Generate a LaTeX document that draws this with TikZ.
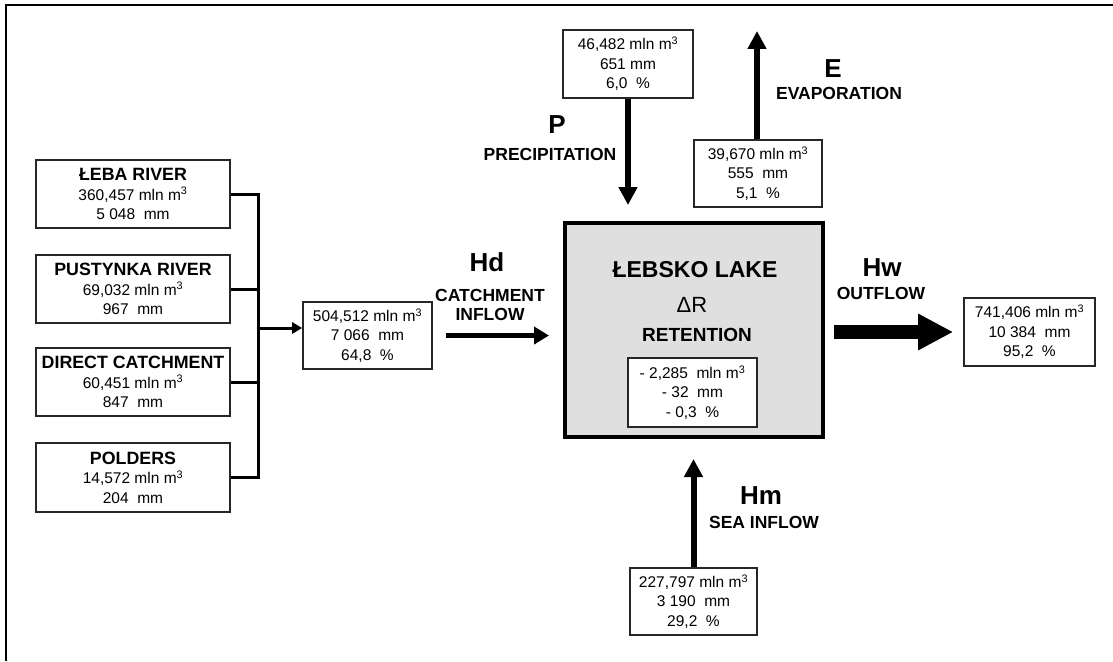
\documentclass[tikz,border=0pt]{standalone}
\usepackage{fontspec}
\setmainfont{Liberation Sans}
\usetikzlibrary{arrows.meta}
\newcommand\ttlfont{\bfseries\fontsize{17.8}{19}\selectfont}
\begin{document}
\begin{tikzpicture}[x=1pt,y=-1pt,
  databox/.style={draw=black!85, line width=1.6pt, fill=white, align=center, inner sep=0pt,
    font=\fontsize{15.5}{19.5}\selectfont},
  biglbl/.style={font=\bfseries\fontsize{26}{28}\selectfont, inner sep=0pt},
  smlbl/.style={font=\bfseries\fontsize{17.5}{19.5}\selectfont, inner sep=0pt, align=center},
  brk/.style={line width=3pt, line join=miter},
  flow/.style={line width=6pt, -{Triangle[length=18pt,width=18pt]}},
]
\useasboundingbox (0,0) rectangle (1113,661);
\fill[white] (0,0) rectangle (1113,661);
% outer frame
\draw[line width=2pt] (6,661) -- (6,5) -- (1113,5);

% left source boxes
\node[databox, minimum width=194pt, minimum height=68pt] (leba) at (133,194)
  {{\ttlfont ŁEBA RIVER}\\360,457 mln m\textsuperscript{3}\\5 048~~mm};
\node[databox, minimum width=194pt, minimum height=68pt] (pust) at (133,289)
  {{\ttlfont PUSTYNKA RIVER}\\69,032 mln m\textsuperscript{3}\\967~~mm};
\node[databox, minimum width=194pt, minimum height=68pt] (direct) at (133,382)
  {{\ttlfont DIRECT CATCHMENT}\\60,451 mln m\textsuperscript{3}\\847~~mm};
\node[databox, minimum width=194pt, minimum height=69pt] (polders) at (133,477.5)
  {{\ttlfont POLDERS}\\14,572 mln m\textsuperscript{3}\\204~~mm};

% catchment sum box
\node[databox, minimum width=129pt, minimum height=67pt] (box504) at (367.5,335.5)
  {504,512 mln m\textsuperscript{3}\\7 066~~mm\\64,8~~\%};

% bracket
\coordinate (bx) at (258,0);
\coordinate (jn) at (258,328);
\draw[brk] (leba.east) -- (leba.east -| bx) -- (polders.east -| bx) -- (polders.east);
\draw[brk] (pust.east) -- (pust.east -| bx);
\draw[brk] (direct.east) -- (direct.east -| bx);
\draw[line width=3pt, -{Triangle[length=10pt,width=11pt]}] (jn) -- (jn -| box504.west);

% lake
\node[draw=black, line width=4pt, fill=gray!25, minimum width=258pt, minimum height=214pt, inner sep=0pt] (lake) at (694,330) {};
\node[font=\bfseries\fontsize{23}{25}\selectfont, inner sep=0pt] (lakename) at (695,270) {ŁEBSKO LAKE};
\node[font=\fontsize{22}{24}\selectfont, inner sep=0pt] (dr) at (692,305) {ΔR};
\node[font=\bfseries\fontsize{19}{21}\selectfont, inner sep=0pt] (ret) at (697,335) {RETENTION};
\node[databox, minimum width=129pt, minimum height=69pt] (retbox) at (692.5,392.5)
  {- 2,285~~mln m\textsuperscript{3}\\- 32~~mm\\- 0,3~~\%};

% precipitation
\node[databox, minimum width=130pt, minimum height=68pt] (pbox) at (628,64)
  {46,482 mln m\textsuperscript{3}\\651 mm\\6,0~~\%};
\node[biglbl] (plbl) at (557,125) {P};
\node[smlbl] (ptxt) at (550,154) {PRECIPITATION};
\draw[flow, shorten >=16pt] (pbox.south) -- (pbox.south |- lake.north);

% evaporation
\node[databox, minimum width=128pt, minimum height=67pt] (ebox) at (758,173.5)
  {39,670 mln m\textsuperscript{3}\\555~~mm\\5,1~~\%};
\coordinate (etop) at (757,31);
\node[biglbl] (elbl) at (833,69) {E};
\node[smlbl] (etxt) at (839,93) {EVAPORATION};
\draw[flow] (ebox.north -| etop) -- (etop);

% catchment inflow
\node[biglbl] (hdlbl) at (487,262) {Hd};
\node[smlbl] (hdtxt) at (490,305) {CATCHMENT\\INFLOW};
\draw[line width=4.5pt, -{Triangle[length=15pt,width=17pt]}, shorten <=13pt, shorten >=14pt]
  (box504.east) -- (lake.west |- box504.east);

% outflow
\node[databox, minimum width=131pt, minimum height=68pt] (hwbox) at (1029.5,332)
  {741,406 mln m\textsuperscript{3}\\10 384~~mm\\95,2~~\%};
\node[biglbl] (hwlbl) at (882,268) {Hw};
\node[smlbl] (hwtxt) at (881,293) {OUTFLOW};
\draw[line width=14pt, -{Triangle[length=35pt,width=34pt]}, shorten <=9pt, shorten >=10pt]
  (lake.east |- hwbox.west) -- (hwbox.west);

% sea inflow
\node[databox, minimum width=127pt, minimum height=67pt] (hmbox) at (693.5,601.5)
  {227,797 mln m\textsuperscript{3}\\3 190~~mm\\29,2~~\%};
\node[biglbl] (hmlbl) at (761,496) {Hm};
\node[smlbl] (hmtxt) at (764,522) {SEA INFLOW};
\draw[flow, shorten >=20pt] (hmbox.north) -- (hmbox.north |- lake.south);
\end{tikzpicture}
\end{document}
